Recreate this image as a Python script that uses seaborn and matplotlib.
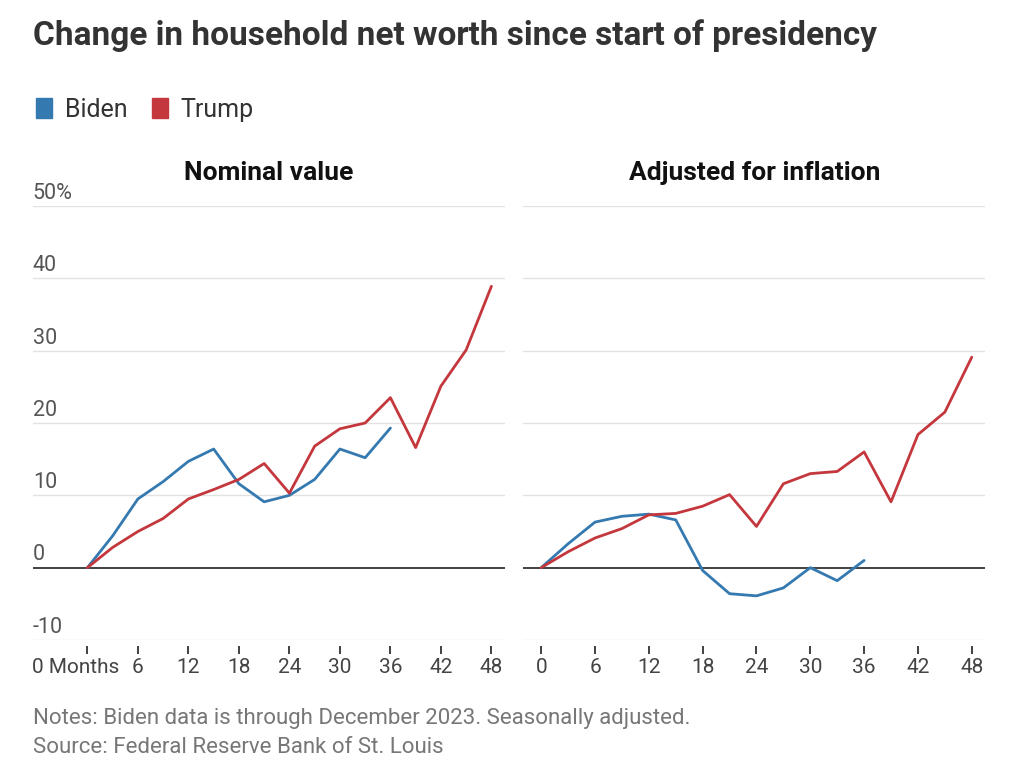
import numpy as np
import pandas as pd
import seaborn as sns
import matplotlib.pyplot as plt
from matplotlib.patches import Patch
from matplotlib.transforms import ScaledTranslation

# months since start of presidency (quarterly)
months_trump = [0, 3, 6, 9, 12, 15, 18, 21, 24, 27, 30, 33, 36, 39, 42, 45, 48]
months_biden = [0, 3, 6, 9, 12, 15, 18, 21, 24, 27, 30, 33, 36]

trump_nominal = [0, 2.8, 5.0, 6.8, 9.5, 10.8, 12.2, 14.4, 10.3, 16.8, 19.2, 20.0, 23.5, 16.6, 25.1, 30.1, 38.9]
biden_nominal = [0, 4.4, 9.5, 11.9, 14.7, 16.4, 11.6, 9.1, 10.0, 12.2, 16.4, 15.2, 19.3]

trump_real = [0, 2.2, 4.1, 5.4, 7.3, 7.5, 8.5, 10.1, 5.7, 11.6, 13.0, 13.3, 16.0, 9.1, 18.4, 21.5, 29.1]
biden_real = [0, 3.3, 6.3, 7.1, 7.4, 6.6, -0.4, -3.6, -3.9, -2.8, 0.0, -1.8, 1.0]

x_ticks = [0, 6, 12, 18, 24, 30, 36, 42, 48]
y_ticks = [-10, 0, 10, 20, 30, 40, 50]
y_labels = ["-10", "0", "10", "20", "30", "40", "50%"]

colors = {"Biden": "#3479b0", "Trump": "#c4373d"}

sns.set_style("white")
plt.rcParams["font.family"] = ["Roboto", "DejaVu Sans"]


def make_df(trump, biden):
    return pd.concat([
        pd.DataFrame({"month": months_biden, "value": biden, "president": "Biden"}),
        pd.DataFrame({"month": months_trump, "value": trump, "president": "Trump"}),
    ])


fig = plt.figure(figsize=(10.22, 7.67), dpi=100)
ax1 = fig.add_axes([0.032, 0.1656, 0.462, 0.5658])
ax2 = fig.add_axes([0.512, 0.1656, 0.452, 0.5658])

panels = [
    (ax1, make_df(trump_nominal, biden_nominal), "Nominal value", (-6.5, 49.6)),
    (ax2, make_df(trump_real, biden_real), "Adjusted for inflation", (-2.0, 49.5)),
]

for ax, df, title, xlim in panels:
    for y in y_ticks:
        if y != 0:
            ax.axhline(y, color="#e2e2e2", lw=1.0, zorder=0)
    ax.axhline(0, color="#333333", lw=1.3, zorder=1)
    sns.lineplot(data=df, x="month", y="value", hue="president", palette=colors,
                 hue_order=["Biden", "Trump"], lw=2.0, ax=ax, legend=False, zorder=3)
    ax.set_xlim(*xlim)
    ax.set_ylim(-10, 50)
    ax.set_xlabel("")
    ax.set_ylabel("")
    for s in ax.spines.values():
        s.set_visible(False)
    ax.spines["bottom"].set_position(("outward", 4))
    ax.set_xticks(x_ticks)
    ax.tick_params(axis="x", length=6, width=1.3, color="#333333", bottom=True,
                   labelsize=15, labelcolor="#444444", pad=3)
    ax.set_yticks([])
    ax.set_title(title, fontsize=19, fontweight="bold", color="#111111", pad=19)

ax1.set_xticklabels(["0 Months"] + [str(t) for t in x_ticks[1:]])
ax2.set_xticklabels([str(t) for t in x_ticks])
lbl0 = ax1.get_xticklabels()[0]
lbl0.set_transform(lbl0.get_transform() + ScaledTranslation(-0.12, 0, fig.dpi_scale_trans))

# y labels sit above gridlines on the left panel
for y, lab in zip(y_ticks, y_labels):
    ax1.text(0.0, y + 0.3, lab, transform=ax1.get_yaxis_transform(), ha="left",
             va="bottom", fontsize=15.5, color="#555555")

fig.text(0.032, 0.953, "Change in household net worth since start of presidency",
         fontsize=24, fontweight="bold", color="#333333", va="center")

handles = [Patch(color=colors["Biden"], label="Biden"), Patch(color=colors["Trump"], label="Trump")]
fig.legend(handles=handles, loc="center left", bbox_to_anchor=(0.013, 0.857), ncol=2,
           frameon=False, fontsize=18, handlelength=0.65, handleheight=0.9,
           handletextpad=0.5, columnspacing=1.0, labelcolor="#333333")

fig.text(0.032, 0.063, "Notes: Biden data is through December 2023. Seasonally adjusted.",
         fontsize=16, color="#777777", va="center")
fig.text(0.032, 0.025, "Source: Federal Reserve Bank of St. Louis",
         fontsize=16, color="#777777", va="center")

fig.savefig("out.png", dpi=100, facecolor="white")
